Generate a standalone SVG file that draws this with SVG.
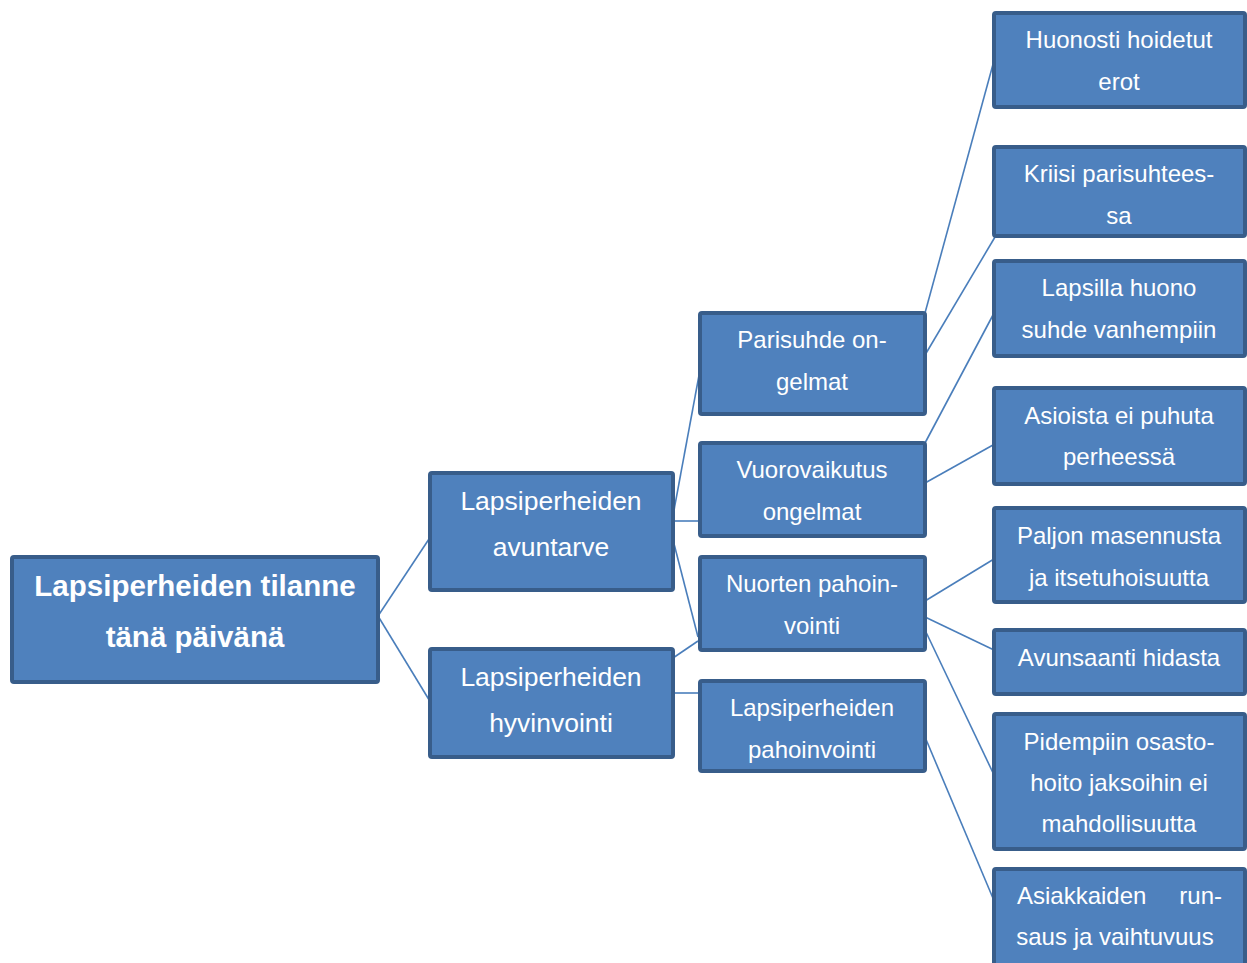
<svg xmlns="http://www.w3.org/2000/svg" width="1247" height="963" viewBox="0 0 1247 963">
<style>
.box{fill:#4F81BD;stroke:#385D8A;stroke-width:4}
.t{font-family:"Liberation Sans",Arial,sans-serif;fill:#FFFFFF;text-anchor:middle}
.t1{font-size:29.5px;font-weight:bold}
.t2{font-size:26.5px}
.t3{font-size:24px}
.c{stroke:#4A7EBB;stroke-width:1.6;fill:none}
</style>
<rect width="1247" height="963" fill="#FFFFFF"/>
<g id="connectors">
<line class="c" x1="378" y1="616" x2="431" y2="536"/>
<line class="c" x1="378" y1="616" x2="431" y2="703"/>
<line class="c" x1="672" y1="521" x2="698" y2="521"/>
<line class="c" x1="672" y1="521" x2="700" y2="370"/>
<line class="c" x1="672" y1="536" x2="698" y2="637"/>
<line class="c" x1="673" y1="658" x2="698" y2="641"/>
<line class="c" x1="672" y1="693" x2="698" y2="693"/>
<line class="c" x1="925" y1="313" x2="995" y2="57"/>
<line class="c" x1="925" y1="355" x2="995" y2="237"/>
<line class="c" x1="925" y1="443" x2="993" y2="315"/>
<line class="c" x1="925" y1="483" x2="993" y2="445"/>
<line class="c" x1="925" y1="601" x2="994" y2="559"/>
<line class="c" x1="925" y1="617" x2="994" y2="650"/>
<line class="c" x1="925" y1="630" x2="995" y2="777"/>
<line class="c" x1="925" y1="737" x2="995" y2="903"/>
</g>
<g id="n-root"><rect class="box" x="12" y="557" width="366" height="125" rx="2"/><text class="t t1" x="195" y="596">Lapsiperheiden tilanne</text><text class="t t1" x="195" y="647">tänä päivänä</text></g>
<g id="n-avuntarve"><rect class="box" x="430" y="473" width="243" height="117" rx="2"/><text class="t t2" x="551" y="510">Lapsiperheiden</text><text class="t t2" x="551" y="556">avuntarve</text></g>
<g id="n-hyvinvointi"><rect class="box" x="430" y="649" width="243" height="108" rx="2"/><text class="t t2" x="551" y="686">Lapsiperheiden</text><text class="t t2" x="551" y="732">hyvinvointi</text></g>
<g id="n-parisuhde"><rect class="box" x="700" y="313" width="225" height="101" rx="2"/><text class="t t3" x="812" y="348">Parisuhde on-</text><text class="t t3" x="812" y="390">gelmat</text></g>
<g id="n-vuorovaikutus"><rect class="box" x="700" y="443" width="225" height="93" rx="2"/><text class="t t3" x="812" y="478">Vuorovaikutus</text><text class="t t3" x="812" y="520">ongelmat</text></g>
<g id="n-nuorten"><rect class="box" x="700" y="557" width="225" height="93" rx="2"/><text class="t t3" x="812" y="592">Nuorten pahoin-</text><text class="t t3" x="812" y="634">vointi</text></g>
<g id="n-lp-pahoinvointi"><rect class="box" x="700" y="681" width="225" height="90" rx="2"/><text class="t t3" x="812" y="716">Lapsiperheiden</text><text class="t t3" x="812" y="758">pahoinvointi</text></g>
<g id="n-huonosti"><rect class="box" x="994" y="13" width="251" height="94" rx="2"/><text class="t t3" x="1119" y="48">Huonosti hoidetut</text><text class="t t3" x="1119" y="90">erot</text></g>
<g id="n-kriisi"><rect class="box" x="994" y="147" width="251" height="89" rx="2"/><text class="t t3" x="1119" y="182">Kriisi parisuhtees-</text><text class="t t3" x="1119" y="224">sa</text></g>
<g id="n-lapsilla"><rect class="box" x="994" y="261" width="251" height="95" rx="2"/><text class="t t3" x="1119" y="296">Lapsilla huono</text><text class="t t3" x="1119" y="338">suhde vanhempiin</text></g>
<g id="n-asioista"><rect class="box" x="994" y="388" width="251" height="96" rx="2"/><text class="t t3" x="1119" y="424">Asioista ei puhuta</text><text class="t t3" x="1119" y="465">perheessä</text></g>
<g id="n-paljon"><rect class="box" x="994" y="508" width="251" height="94" rx="2"/><text class="t t3" x="1119" y="544">Paljon masennusta</text><text class="t t3" x="1119" y="586">ja itsetuhoisuutta</text></g>
<g id="n-avunsaanti"><rect class="box" x="994" y="630" width="251" height="64" rx="2"/><text class="t t3" x="1119" y="666">Avunsaanti hidasta</text></g>
<g id="n-pidempiin"><rect class="box" x="994" y="714" width="251" height="135" rx="2"/><text class="t t3" x="1119" y="750">Pidempiin osasto-</text><text class="t t3" x="1119" y="791">hoito jaksoihin ei</text><text class="t t3" x="1119" y="832">mahdollisuutta</text></g>
<g id="n-asiakkaiden"><rect class="box" x="994" y="869" width="251" height="100" rx="2"/><text class="t t3" x="1017" y="904" style="text-anchor:start">Asiakkaiden</text><text class="t t3" x="1222" y="904" style="text-anchor:end">run-</text><text class="t t3" x="1115" y="945">saus ja vaihtuvuus</text></g>
</svg>
